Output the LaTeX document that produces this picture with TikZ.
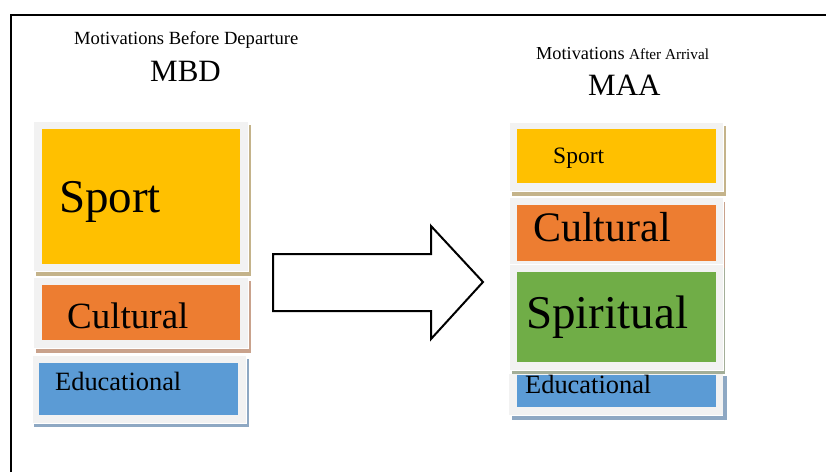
\documentclass[tikz,border=0pt]{standalone}
\usepackage{fontspec}
\setmainfont{Liberation Serif}
\definecolor{gframe}{HTML}{F2F2F2}
\definecolor{cyellow}{HTML}{FFC000}
\definecolor{corange}{HTML}{ED7D31}
\definecolor{cblue}{HTML}{5B9BD5}
\definecolor{cgreen}{HTML}{70AD47}
\definecolor{shyellow}{HTML}{C4B38A}
\definecolor{shorange}{HTML}{C9A28C}
\definecolor{shblue}{HTML}{8EA8C3}
\definecolor{shgreen}{HTML}{A3AE98}
\newcommand{\fsz}[1]{\fontsize{#1}{#1}\selectfont}
\tikzset{
  framebox/.style={fill=gframe, draw=white, line width=0.8pt},
  colorbox/.style={draw=none, inner sep=0pt, outer sep=0pt, anchor=north west},
  label/.style={inner sep=0pt, anchor=base west, text=black},
  outline/.style={draw=black, line width=2pt},
}
\begin{document}
\begin{tikzpicture}[x=1pt, y=-1pt]
\useasboundingbox[fill=white] (0,0) rectangle (826,472);

% page frame
\draw[outline] (11,472) -- (11,15) -- (830,15);

% headings
\node[label] (hbd) at (74,44) {\fsz{18.6}Motivations Before Departure};
\node[label] (mbd) at (150,81) {\fsz{31}MBD};
\node[label] (haa) at (536,59) {\fsz{18.3}Motivations {\fsz{15.2}After Arrival}};
\node[label] (maa) at (588,95) {\fsz{31}MAA};

% left stack
\fill[shyellow] (36,125) rectangle (251,276);
\filldraw[framebox] (33,121) rectangle (248,271);
\node[colorbox, fill=cyellow, minimum width=198pt, minimum height=135pt] (sportL) at (42,129) {};
\node[label] at (59,212) {\fsz{47}Sport};

\fill[shorange] (36,281) rectangle (251,353);
\filldraw[framebox] (33,277) rectangle (248,348);
\node[colorbox, fill=corange, minimum width=198pt, minimum height=55pt] (cultL) at (42,285) {};
\node[label] at (67,328) {\fsz{37}Cultural};

\fill[shblue] (34,359) rectangle (249,427);
\filldraw[framebox] (32,355) rectangle (246,423);
\node[colorbox, fill=cblue, minimum width=199pt, minimum height=52pt] (eduL) at (39,363) {};
\node[label] at (55,390) {\fsz{26.4}Educational};

% block arrow
\draw[line width=2pt, line join=miter, fill=white]
  (273,254) -- (431,254) -- (431,226) -- (483,282) -- (431,339) -- (431,311) -- (273,311) -- cycle;

% right stack
\fill[shyellow] (512,126) rectangle (726,196);
\filldraw[framebox] (509,122) rectangle (723,191);
\node[colorbox, fill=cyellow, minimum width=199pt, minimum height=54pt] (sportR) at (517,129) {};
\node[label] at (553,163) {\fsz{23.5}Sport};

\fill[shorange] (512,202) rectangle (725,268);
\filldraw[framebox] (509,197) rectangle (723,266);
\node[colorbox, fill=corange, minimum width=199pt, minimum height=56pt] (cultR) at (517,205) {};
\node[label] at (533,241) {\fsz{42}Cultural};

\fill[shgreen] (512,268) rectangle (725,374);
\filldraw[framebox] (509,264) rectangle (723,370);
\node[colorbox, fill=cgreen, minimum width=199pt, minimum height=90pt] (spirR) at (517,272) {};
\node[label] at (526,328) {\fsz{47}Spiritual};

\fill[shblue] (512,376) rectangle (727,420);
\fill[gframe] (509,374) rectangle (723,415);
\draw[white, line width=0.8pt] (509,415) -- (723,415);
\node[colorbox, fill=cblue, minimum width=199pt, minimum height=32pt] (eduR) at (517,375) {};
\node[label] at (525,393) {\fsz{26.4}Educational};
\end{tikzpicture}
\end{document}
